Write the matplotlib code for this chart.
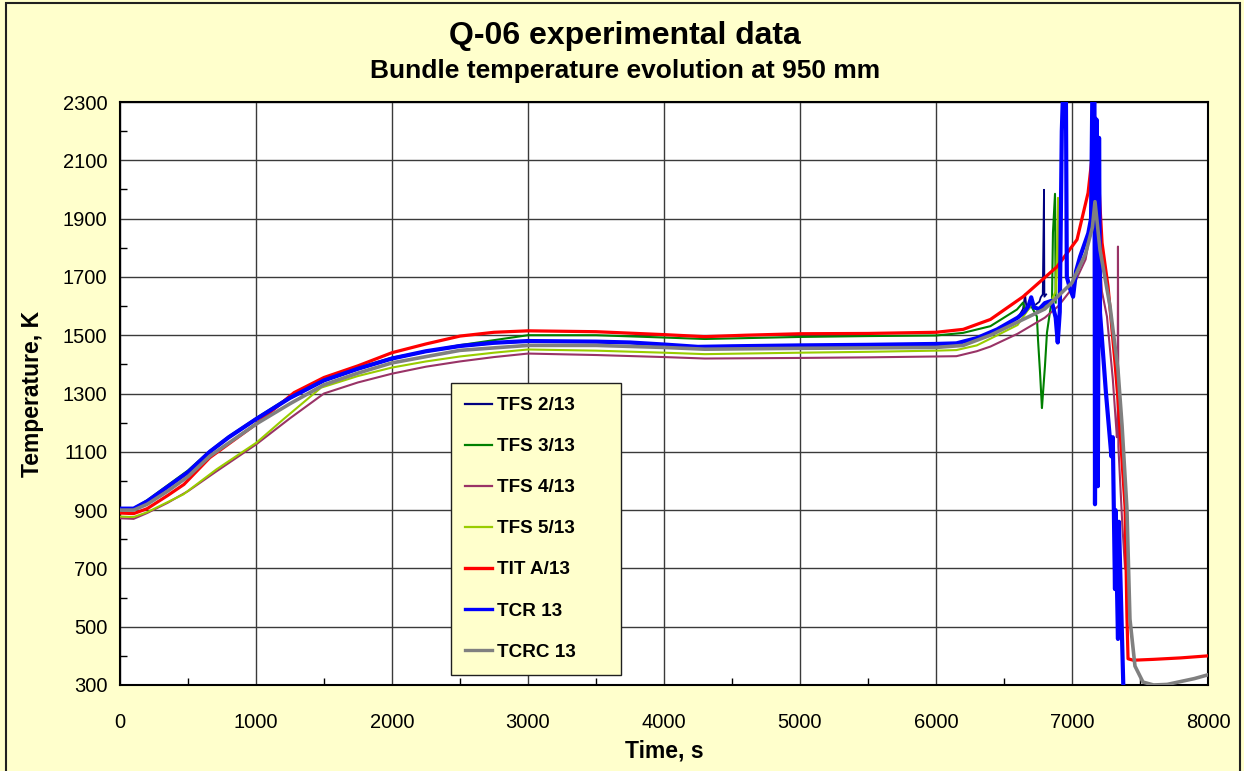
import matplotlib
matplotlib.use("Agg")
import matplotlib.pyplot as plt
from matplotlib.patches import Rectangle

plt.rcParams['font.family'] = ['Liberation Sans', 'DejaVu Sans']

# ---------------- data ----------------
tfs2_t = [0, 100, 200, 350, 500, 660, 800, 1000, 1250, 1500, 1750, 2000, 2250, 2500, 2750, 3000,
          3500, 3750, 4000, 4250, 4500, 5000, 5500, 6000, 6150, 6300, 6450, 6600, 6640, 6655, 6665,
          6720, 6760, 6770, 6785, 6790, 6794, 6797, 6810]
tfs2_T = [902, 902, 928, 978, 1028, 1098, 1148, 1210, 1283, 1343, 1383, 1418, 1443, 1461, 1472, 1478,
          1476, 1473, 1466, 1458, 1460, 1463, 1465, 1468, 1470, 1488, 1518, 1558, 1590, 1640, 1595,
          1600, 1615, 1630, 1640, 1840, 1999, 1632, 1640]

tfs3_t = [0, 100, 200, 350, 500, 660, 800, 1000, 1250, 1500, 1750, 2000, 2500, 3000, 3500, 4000,
          4300, 5000, 5500, 6000, 6200, 6400, 6595, 6640, 6660, 6700, 6742, 6750, 6765, 6779, 6787,
          6801, 6816, 6838, 6853, 6860, 6875, 6880]
tfs3_T = [906, 906, 934, 985, 1036, 1103, 1153, 1215, 1289, 1348, 1388, 1423, 1466, 1500, 1500, 1492,
          1487, 1494, 1497, 1499, 1508, 1531, 1588, 1612, 1580, 1600, 1564, 1485, 1372, 1250, 1303,
          1393, 1509, 1580, 1622, 1852, 1985, 1612]

tfs4_t = [0, 100, 200, 350, 500, 700, 1000, 1250, 1500, 1750, 2000, 2250, 2500, 2750, 3000, 3500,
          4000, 4300, 5000, 5500, 6000, 6150, 6300, 6400, 6600, 6800, 6900, 7000, 7100, 7150, 7180,
          7200, 7220, 7257, 7300, 7330, 7336, 7338, 7341, 7370, 7390]
tfs4_T = [872, 870, 890, 925, 965, 1030, 1125, 1215, 1300, 1338, 1368, 1392, 1410, 1425, 1437, 1432,
          1425, 1420, 1422, 1424, 1427, 1428, 1445, 1461, 1505, 1560, 1600, 1660, 1760, 1900, 2080,
          1800, 1650, 1564, 1350, 1150, 1200, 1804, 1118, 850, 700]

tfs5_t = [0, 100, 196, 466, 710, 1005, 1200, 1478, 1750, 2000, 2250, 2500, 2750, 3000, 3500, 4000,
          4300, 5000, 5500, 6000, 6150, 6300, 6400, 6600, 6713, 6750, 6850, 6880, 6890, 6897, 6902]
tfs5_T = [878, 876, 892, 954, 1040, 1132, 1211, 1320, 1360, 1389, 1410, 1427, 1440, 1451, 1447, 1440,
          1435, 1440, 1443, 1447, 1449, 1465, 1488, 1535, 1612, 1580, 1620, 1650, 1800, 1971, 1640]

tita_t = [0, 100, 200, 350, 470, 660, 1000, 1280, 1500, 1750, 2000, 2250, 2500, 2750, 3000, 3500,
          4000, 4300, 4600, 5000, 5500, 6000, 6200, 6400, 6640, 6890, 7037, 7118, 7145, 7169, 7185,
          7205, 7221, 7265, 7316, 7338, 7390, 7404, 7412, 7450, 7600, 7800, 8000]
tita_T = [890, 888, 905, 950, 988, 1080, 1195, 1303, 1355, 1395, 1440, 1470, 1497, 1510, 1515, 1512,
          1502, 1495, 1500, 1505, 1506, 1510, 1520, 1554, 1632, 1735, 1828, 1988, 2100, 2248, 2150,
          1950, 1817, 1667, 1406, 1280, 913, 536, 390, 385, 388, 393, 400]

tcr_t = [0, 100, 200, 350, 500, 660, 800, 1000, 1250, 1500, 1750, 2000, 2250, 2500, 2750, 3000,
         3500, 3750, 4000, 4250, 4500, 5000, 5500, 6000, 6150, 6300, 6450, 6600, 6650, 6680, 6700,
         6720, 6760, 6800, 6850, 6880, 6895, 6910, 6925, 6935, 6955, 6962, 6985, 7008, 7030, 7060,
         7090, 7120, 7140, 7150, 7165, 7169, 7180, 7190, 7199, 7206, 7250, 7290, 7300, 7316, 7320,
         7338, 7345, 7380]
tcr_T = [905, 905, 930, 980, 1030, 1100, 1150, 1212, 1285, 1345, 1385, 1420, 1445, 1463, 1474, 1480,
         1478, 1475, 1468, 1460, 1462, 1465, 1467, 1470, 1472, 1490, 1520, 1560, 1580, 1600, 1630,
         1595, 1590, 1610, 1618, 1560, 1475, 1580, 2200, 2350, 2350, 1700, 1660, 1632, 1720, 1770,
         1810, 1850, 1900, 2350, 2350, 920, 2240, 982, 2177, 1577, 1300, 1084, 1150, 629, 900,
         458, 860, 250]

tcrc_t = [0, 100, 200, 350, 500, 660, 1000, 1250, 1500, 1750, 2000, 2500, 3000, 3500, 4000, 4300,
          5000, 6000, 6200, 6400, 6600, 6800, 7000, 7100, 7150, 7169, 7206, 7280, 7338, 7368, 7404,
          7426, 7463, 7522, 7600, 7700, 7800, 7900, 8000]
tcrc_T = [900, 900, 920, 965, 1015, 1085, 1195, 1265, 1330, 1370, 1405, 1448, 1465, 1465, 1458, 1452,
          1455, 1458, 1465, 1500, 1545, 1590, 1680, 1780, 1870, 1958, 1793, 1598, 1382, 1190, 903,
          526, 365, 310, 300, 302, 312, 322, 335]

labels = ["TFS 2/13", "TFS 3/13", "TFS 4/13", "TFS 5/13", "TIT A/13", "TCR 13", "TCRC 13"]
colors = ["#000080", "#008000", "#993366", "#99CC00", "#FF0000", "#0000FF", "#808080"]
widths = [1.3, 1.5, 1.5, 1.5, 2.3, 3.0, 2.6]
leg_widths = [1.6, 1.6, 1.6, 1.6, 2.4, 2.4, 2.4]

x_ticks = [0, 1000, 2000, 3000, 4000, 5000, 6000, 7000, 8000]
y_ticks = [300, 500, 700, 900, 1100, 1300, 1500, 1700, 1900, 2100, 2300]

# ---------------- figure ----------------
W, H = 1244, 771
fig = plt.figure(figsize=(W / 100, H / 100), dpi=100)
fig.patch.set_facecolor("#FFFFCC")
fig.patches.append(Rectangle((6 / W, -0.01), (1240 - 6) / W, 1.01 - 3 / H,
                             transform=fig.transFigure, fill=False,
                             edgecolor="#202020", linewidth=1.5))

ax = fig.add_axes([120 / W, (H - 685) / H, 1088 / W, (685 - 102) / H])
ax.set_facecolor("white")

series = [(tfs2_t, tfs2_T), (tfs3_t, tfs3_T), (tfs4_t, tfs4_T), (tfs5_t, tfs5_T),
          (tita_t, tita_T), (tcr_t, tcr_T), (tcrc_t, tcrc_T)]
for i, ((t, T), lab, c, lw) in enumerate(zip(series, labels, colors, widths)):
    ax.plot(t, T, color=c, lw=lw, label=lab, zorder=3 + i, solid_joinstyle="round")

ax.set_xlim(0, 8000)
ax.set_ylim(300, 2300)
ax.set_xticks(x_ticks)
ax.set_yticks(y_ticks)
ax.set_xticks([500, 1500, 2500, 3500, 4500, 5500, 6500, 7500], minor=True)
ax.set_yticks([400, 600, 800, 1000, 1200, 1400, 1600, 1800, 2000, 2200], minor=True)
ax.grid(True, which="major", color="#3a3a3a", linewidth=1.0, zorder=1)
ax.set_axisbelow(True)
ax.tick_params(which="major", direction="in", length=0, labelsize=14.5, pad=9)
ax.tick_params(axis="x", which="major", pad=20)
ax.tick_params(which="minor", direction="in", length=5, width=1, color="black")
for s in ax.spines.values():
    s.set_color("black")
    s.set_linewidth(1.5)

fig.text(625 / W, 1 - 36 / H, "Q-06 experimental data", ha="center", va="center",
         fontsize=23, fontweight="bold")
fig.text(625 / W, 1 - 71 / H, "Bundle temperature evolution at 950 mm", ha="center",
         va="center", fontsize=19, fontweight="bold")
fig.text(33 / W, 1 - 394 / H, "Temperature, K", rotation=90, ha="center", va="center",
         fontsize=16.5, fontweight="bold")
fig.text(664 / W, 1 - 751 / H, "Time, s", ha="center", va="center",
         fontsize=16.5, fontweight="bold")

x0 = (451 - 120) / 1088
x1 = (621 - 120) / 1088
y1 = (685 - 383) / 583
leg = ax.legend(loc="upper left", bbox_to_anchor=(x0, y1, x1 - x0, 0), mode="expand",
                prop={"weight": "bold", "size": 13.6}, labelspacing=1.26,
                borderpad=0.75, handlelength=1.4, handletextpad=0.3, borderaxespad=0,
                fancybox=False, framealpha=1)
leg.get_frame().set_facecolor("#FFFFCC")
leg.get_frame().set_edgecolor("#202020")
leg.get_frame().set_linewidth(1.0)
leg.set_zorder(20)
for h, lw in zip(leg.get_lines(), leg_widths):
    h.set_linewidth(lw)

fig.savefig("out.png", dpi=100, facecolor=fig.get_facecolor())
